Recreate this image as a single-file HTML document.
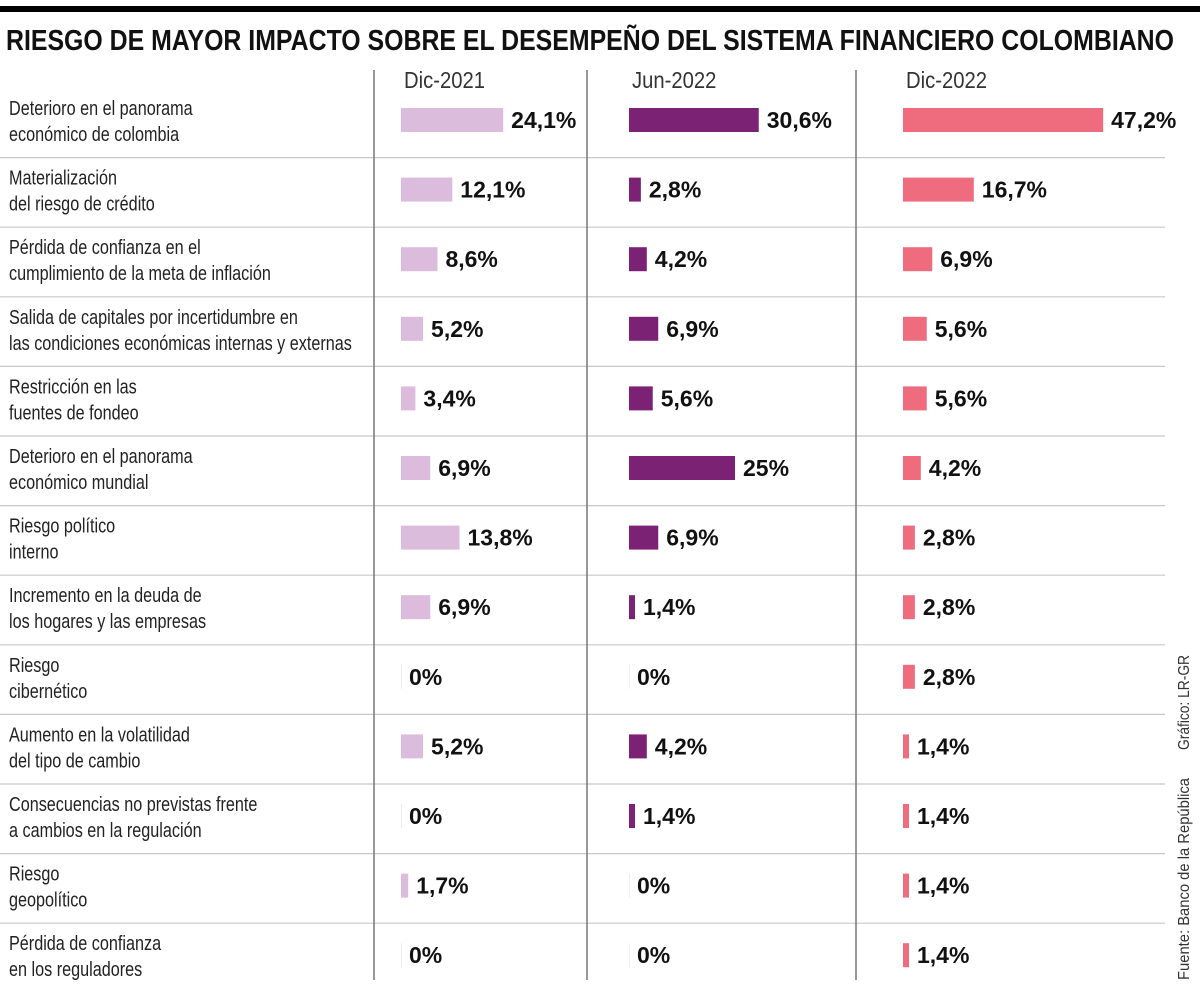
<!DOCTYPE html>
<html><head><meta charset="utf-8"><style>
html,body{margin:0;padding:0;background:#fff;}
svg{display:block;}
.lbl{font-family:"Liberation Sans Narrow","Liberation Sans",sans-serif;font-size:20px;fill:#222;}
.val{font-family:"Liberation Sans",sans-serif;font-weight:bold;font-size:23px;fill:#111;}
.hdr{font-family:"Liberation Sans",sans-serif;font-size:23px;fill:#333;}
</style></head><body>
<svg id="chart" width="1200" height="993">
<rect x="0" y="6" width="1200" height="6" fill="#000"/>
<text x="6" y="50" textLength="1168" lengthAdjust="spacingAndGlyphs" font-family="Liberation Sans Narrow, Liberation Sans, sans-serif" font-weight="bold" font-size="29" fill="#111">RIESGO DE MAYOR IMPACTO SOBRE EL DESEMPEÑO DEL SISTEMA FINANCIERO COLOMBIANO</text>
<g id="grid"></g>
<g id="marks"></g>
<text transform="translate(1189,980) rotate(-90)" textLength="202" lengthAdjust="spacingAndGlyphs" font-family="Liberation Sans, sans-serif" font-size="16" fill="#333">Fuente: Banco de la República</text>
<text transform="translate(1189,750) rotate(-90)" textLength="95" lengthAdjust="spacingAndGlyphs" font-family="Liberation Sans, sans-serif" font-size="16" fill="#333">Gráfico: LR-GR</text>
</svg>
<script>
const categories = [
 ["Deterioro en el panorama","económico de colombia"],
 ["Materialización","del riesgo de crédito"],
 ["Pérdida de confianza en el","cumplimiento de la meta de inflación"],
 ["Salida de capitales por incertidumbre en","las condiciones económicas internas y externas"],
 ["Restricción en las","fuentes de fondeo"],
 ["Deterioro en el panorama","económico mundial"],
 ["Riesgo político","interno"],
 ["Incremento en la deuda de","los hogares y las empresas"],
 ["Riesgo","cibernético"],
 ["Aumento en la volatilidad","del tipo de cambio"],
 ["Consecuencias no previstas frente","a cambios en la regulación"],
 ["Riesgo","geopolítico"],
 ["Pérdida de confianza","en los reguladores"]
];
const seriesNames = ["Dic-2021","Jun-2022","Dic-2022"];
const dic2021 = [24.1,12.1,8.6,5.2,3.4,6.9,13.8,6.9,0,5.2,0,1.7,0];
const jun2022 = [30.6,2.8,4.2,6.9,5.6,25,6.9,1.4,0,4.2,1.4,0,0];
const dic2022 = [47.2,16.7,6.9,5.6,5.6,4.2,2.8,2.8,2.8,1.4,1.4,1.4,1.4];
const valueLabels = [
 ["24,1%","12,1%","8,6%","5,2%","3,4%","6,9%","13,8%","6,9%","0%","5,2%","0%","1,7%","0%"],
 ["30,6%","2,8%","4,2%","6,9%","5,6%","25%","6,9%","1,4%","0%","4,2%","1,4%","0%","0%"],
 ["47,2%","16,7%","6,9%","5,6%","5,6%","4,2%","2,8%","2,8%","2,8%","1,4%","1,4%","1,4%","1,4%"]
];
const series=[dic2021,jun2022,dic2022];
const colors=["#dbbcdc","#7b2275","#ef6c7f"];
const colStart=[401,629,903];
const xScale=v=>v*4.24;
const rowY=i=>88+i*69.6;
const NS="http://www.w3.org/2000/svg";
const grid=document.getElementById('grid'), marks=document.getElementById('marks');
function mk(tag,attrs,parent){const e=document.createElementNS(NS,tag);for(const k in attrs)e.setAttribute(k,attrs[k]);parent.appendChild(e);return e;}
for(let i=1;i<categories.length;i++){
 const l=mk('line',{x1:0,x2:1165,y1:rowY(i),y2:rowY(i),stroke:'#c8c8c8','stroke-width':1.2},grid);
 
 
}
[374,587,856].forEach(x=>{
 const l=mk('line',{x1:x,x2:x,y1:70,y2:980,stroke:'#777','stroke-width':1.5},grid);
 
 
});
seriesNames.forEach((n,s)=>{
 const t=mk('text',{x:colStart[s]+3,y:88,class:'hdr',transform:`translate(${colStart[s]+3},0) scale(0.88,1) translate(${-(colStart[s]+3)},0)`},grid);t.textContent=n;
 
 
});
categories.forEach((c,i)=>{
 const cy=rowY(i)+32;
 const t=mk('text',{x:9,y:cy-5,class:'lbl',transform:'translate(9,0) scale(0.81,1) translate(-9,0)'},marks);
 
 
 const a=mk('tspan',{x:9},t);a.textContent=c[0];
 const b=mk('tspan',{x:9,dy:26},t);b.textContent=c[1];
 series.forEach((arr,s)=>{
  const v=arr[i];
  let w=xScale(v); if(v>0&&w<6)w=6;
  if(v>0){
   const r=mk('rect',{x:colStart[s],y:cy-12,width:w,height:24,fill:colors[s]},marks);
   
   
  } else {
   const r=mk('rect',{x:colStart[s],y:cy-12,width:1,height:24,fill:'#eee'},marks);
   
   
  }
  const tx=mk('text',{x:colStart[s]+(v>0?w+8:8),y:cy+8,class:'val'},marks);
  tx.textContent=valueLabels[s][i];
  
  
 });
});
</script>
</body></html>
